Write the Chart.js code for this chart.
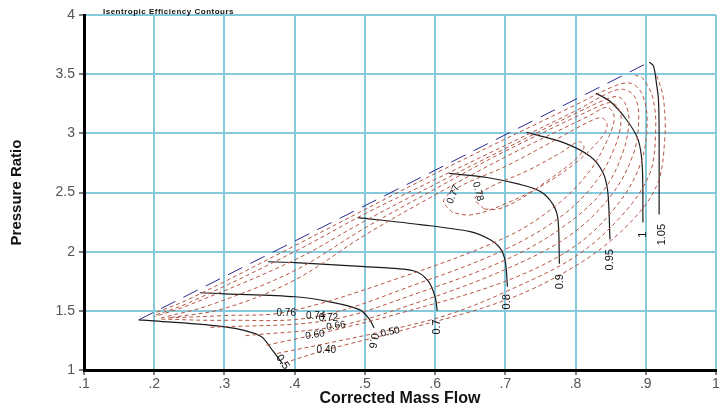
<!DOCTYPE html>
<html>
<head>
<meta charset="utf-8">
<script src="https://cdn.jsdelivr.net/npm/chart.js@4.4.1/dist/chart.umd.min.js"></script>
<style>
  html, body { margin: 0; padding: 0; background: #fff; }
</style>
</head>
<body>
<canvas id="mapChart" width="726" height="408"></canvas>
<script>
// surge line (mass flow, pressure ratio)
const surgeLine = [[0.178, 1.424], [0.905, 3.602]];

// speed lines
const speedNames = ["0.5", "0.6", "0.7", "0.8", "0.9", "0.95", "1", "1.05"];
const speed050 = [[0.178, 1.424], [0.2, 1.415], [0.301, 1.364], [0.351, 1.288], [0.369, 1.161], [0.383, 1.051]];
const speed060 = [[0.265, 1.653], [0.301, 1.644], [0.401, 1.619], [0.45, 1.576], [0.493, 1.508], [0.507, 1.424], [0.513, 1.356]];
const speed070 = [[0.362, 1.915], [0.401, 1.907], [0.5, 1.873], [0.569, 1.839], [0.59, 1.754], [0.6, 1.619], [0.603, 1.5]];
const speed080 = [[0.49, 2.288], [0.579, 2.229], [0.65, 2.169], [0.678, 2.102], [0.693, 2.025], [0.7, 1.915], [0.703, 1.703]];
const speed090 = [[0.62, 2.661], [0.674, 2.627], [0.721, 2.568], [0.75, 2.508], [0.768, 2.398], [0.775, 2.271], [0.777, 1.898]];
const speed095 = [[0.73, 3.008], [0.782, 2.924], [0.821, 2.805], [0.839, 2.669], [0.846, 2.5], [0.849, 2.102]];
const speed100 = [[0.829, 3.339], [0.849, 3.271], [0.872, 3.119], [0.889, 2.949], [0.895, 2.72], [0.896, 2.246]];
const speed105 = [[0.905, 3.602], [0.911, 3.568], [0.915, 3.432], [0.918, 3.288], [0.919, 3.008], [0.919, 2.314]];

// isentropic efficiency contours
const effNames = ["0.40", "0.50", "0.60", "0.66", "0.72", "0.74", "0.76", "0.77", "0.78"];
const eff40 = [[0.385, 1.06], [0.445, 1.17], [0.55, 1.33], [0.7, 1.59], [0.8, 1.88], [0.87, 2.2], [0.915, 2.55], [0.927, 2.95], [0.925, 3.3], [0.915, 3.5]];
const eff50 = [[0.375, 1.14], [0.45, 1.23], [0.536, 1.34], [0.62, 1.47], [0.7, 1.66], [0.8, 1.96], [0.865, 2.3], [0.905, 2.65], [0.914, 3.0], [0.91, 3.3], [0.895, 3.47], [0.885, 3.49]];
const eff60 = [[0.36, 1.21], [0.43, 1.3], [0.55, 1.48], [0.7, 1.75], [0.8, 2.05], [0.86, 2.4], [0.893, 2.75], [0.902, 3.1], [0.895, 3.33], [0.88, 3.42], [0.86, 3.41], [0.8, 3.24], [0.6, 2.66], [0.4, 2.05], [0.25, 1.6], [0.2, 1.48]];
const eff66 = [[0.33, 1.29], [0.46, 1.37], [0.58, 1.58], [0.7, 1.85], [0.79, 2.13], [0.85, 2.47], [0.882, 2.82], [0.89, 3.12], [0.885, 3.3], [0.87, 3.37], [0.85, 3.35], [0.8, 3.19], [0.6, 2.61], [0.5, 2.32], [0.4, 2.0], [0.25, 1.57], [0.2, 1.46]];
const eff72 = [[0.28, 1.36], [0.448, 1.42], [0.58, 1.66], [0.7, 1.93], [0.78, 2.2], [0.84, 2.52], [0.868, 2.85], [0.876, 3.12], [0.87, 3.26], [0.86, 3.31], [0.84, 3.28], [0.75, 3.02], [0.6, 2.57], [0.5, 2.26], [0.4, 1.93], [0.25, 1.55], [0.2, 1.45]];
const eff74 = [[0.21, 1.43], [0.3, 1.42], [0.43, 1.45], [0.58, 1.74], [0.7, 2.02], [0.78, 2.3], [0.83, 2.6], [0.857, 2.9], [0.865, 3.12], [0.86, 3.22], [0.85, 3.26], [0.83, 3.22], [0.7, 2.85], [0.6, 2.53], [0.5, 2.2], [0.4, 1.84], [0.28, 1.55], [0.21, 1.44]];
const eff76 = [[0.22, 1.44], [0.3, 1.46], [0.388, 1.49], [0.55, 1.78], [0.7, 2.12], [0.77, 2.38], [0.82, 2.68], [0.848, 2.98], [0.855, 3.14], [0.845, 3.22], [0.82, 3.15], [0.7, 2.8], [0.6, 2.48], [0.5, 2.14], [0.4, 1.76], [0.3, 1.52], [0.22, 1.44]];
const eff77 = [[0.625, 2.33], [0.612, 2.43], [0.635, 2.55], [0.7, 2.72], [0.77, 2.94], [0.82, 3.1], [0.838, 3.13], [0.845, 3.06], [0.835, 2.95], [0.8, 2.75], [0.75, 2.55], [0.69, 2.38], [0.65, 2.31], [0.625, 2.33]];
const eff78 = [[0.67, 2.36], [0.657, 2.45], [0.68, 2.55], [0.73, 2.68], [0.78, 2.84], [0.805, 2.93], [0.812, 2.88], [0.8, 2.78], [0.76, 2.6], [0.72, 2.44], [0.69, 2.36], [0.67, 2.36]];

// where the contour / speed labels sit [x, y, rotation deg]
const speedLabelPos = [[0.383, 1.068, 55], [0.512, 1.246, 100], [0.603, 1.364, -90], [0.703, 1.576, -90], [0.778, 1.746, -90], [0.849, 1.932, -90], [0.896, 2.144, -90], [0.923, 2.144, -90]];
const effLabelPos = [[0.445, 1.17, 0], [0.536, 1.32, -12], [0.429, 1.297, -8], [0.459, 1.373, -8], [0.448, 1.44, 0], [0.43, 1.458, 0], [0.388, 1.483, 0], [0.626, 2.483, -68], [0.661, 2.508, 75]];

const speedLines = [speed050, speed060, speed070, speed080, speed090, speed095, speed100, speed105];
const effLines = [eff40, eff50, eff60, eff66, eff72, eff74, eff76, eff77, eff78];

const toPoints = (arr) => arr.map((p) => ({ x: p[0], y: p[1] }));

const datasets = [];
effLines.forEach(function (line, i) {
  datasets.push({
    label: "eff " + effNames[i],
    data: toPoints(line),
    showLine: true,
    borderColor: "#b65543",
    borderWidth: 1,
    borderDash: [4, 3],
    pointRadius: 0,
    tension: 0.35,
  });
});
speedLines.forEach(function (line, i) {
  datasets.push({
    label: "N " + speedNames[i],
    data: toPoints(line),
    showLine: true,
    borderColor: "#1a1a1a",
    borderWidth: 1.2,
    pointRadius: 0,
    tension: 0.3,
  });
});
datasets.push({
  label: "surge",
  data: toPoints(surgeLine),
  showLine: true,
  borderColor: "#2a2a90",
  borderWidth: 1,
  borderDash: [16, 9],
  pointRadius: 0,
});

// draws the small text labels on top of the lines
const labelPlugin = {
  id: "mapLabels",
  afterDatasetsDraw(chart) {
    const c = chart.ctx;
    const xs = chart.scales.x;
    const ys = chart.scales.y;
    c.save();
    c.fillStyle = "#111";
    c.textAlign = "center";
    c.textBaseline = "middle";
    c.font = "11px Arial";
    function put(text, pos) {
      c.save();
      c.translate(xs.getPixelForValue(pos[0]), ys.getPixelForValue(pos[1]));
      c.rotate((pos[2] * Math.PI) / 180);
      c.fillText(text, 0, 0);
      c.restore();
    }
    speedNames.forEach((t, i) => put(t, speedLabelPos[i]));
    c.font = "10px Arial";
    effNames.forEach((t, i) => put(t, effLabelPos[i]));
    // chart caption
    c.font = "bold 8px Arial";
    c.letterSpacing = "0.5px";
    c.textAlign = "left";
    c.fillText("Isentropic Efficiency Contours", chart.chartArea.left + 19, chart.chartArea.top - 3);
    c.restore();
  },
};

const ctx = document.getElementById("mapChart").getContext("2d");
new Chart(ctx, {
  type: "scatter",
  data: { datasets: datasets },
  plugins: [labelPlugin],
  options: {
    responsive: false,
    animation: false,
    layout: { padding: { top: 15, right: 10, left: 0, bottom: 0 } },
    plugins: { legend: { display: false }, tooltip: { enabled: false } },
    scales: {
      x: {
        type: "linear",
        min: 0.1,
        max: 1,
        afterFit: (scale) => { scale.height = 38; },
        ticks: {
          stepSize: 0.1,
          color: "#555",
          font: { family: "Arial", size: 14 },
          padding: 1,
          callback: (v) => (v >= 1 ? "1" : Number(v).toFixed(1).replace(/^0/, "")),
        },
        grid: { color: "#86c8dc", lineWidth: 2, tickLength: 5, tickColor: "#000", tickWidth: 1 },
        border: { color: "#000", width: 3 },
        title: { display: true, text: "Corrected Mass Flow", color: "#111", font: { family: "Arial", size: 16, weight: "bold" }, padding: 0 },
      },
      y: {
        type: "linear",
        min: 1,
        max: 4,
        afterFit: (scale) => { scale.width = 84; },
        ticks: {
          stepSize: 0.5,
          color: "#555",
          font: { family: "Arial", size: 14 },
          padding: 4,
          callback: (v) => String(Number(v)),
        },
        grid: { color: "#86c8dc", lineWidth: 2, tickLength: 5, tickColor: "#000", tickWidth: 1 },
        border: { color: "#000", width: 3 },
        title: { display: true, text: "Pressure Ratio", color: "#111", font: { family: "Arial", size: 15, weight: "bold" }, padding: 8 },
      },
    },
  },
});
</script>
</body>
</html>
